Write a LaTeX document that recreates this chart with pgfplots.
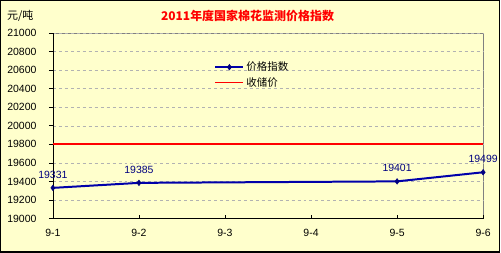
\documentclass[border=0pt]{standalone}
\usepackage{pgfplots}
\pgfplotsset{compat=1.18}
\usepackage{fontspec}
\setmainfont{Liberation Sans}
\newfontfamily\cjk{Noto Sans CJK SC}
\definecolor{bg}{RGB}{255,255,204}
\definecolor{lineblue}{RGB}{0,0,170}
\definecolor{navy}{RGB}{0,0,128}
\begin{document}
\begin{tikzpicture}[x=1bp,y=1bp]
\fill[bg] (0,0) rectangle (501,253);
\node[font=\cjk\bfseries\fontsize{12bp}{14bp}\selectfont, text=red] at (248,237.5) {2011年度国家棉花监测价格指数};
\node[font=\cjk\fontsize{11bp}{13bp}\selectfont, anchor=west, inner sep=0pt] at (7,237.5) {元/吨};
\begin{axis}[
  at={(53bp,34bp)}, anchor=origin,
  scale only axis, width=431bp, height=186bp,
  xmin=0, xmax=5, ymin=19000, ymax=21000,
  xtick={0,1,2,3,4,5},
  xticklabels={9-1,9-2,9-3,9-4,9-5,9-6},
  ytick={19000,19200,...,21000},
  scaled y ticks=false,
  yticklabel={\pgfmathprintnumber[fixed,precision=0,1000 sep={}]{\tick}},
  axis x line*=bottom, axis y line*=left,
  axis line style={-, black, line width=0.8bp},
  axis background/.style={fill=bg, draw=gray, line width=0.8bp},
  xtick align=inside, ytick align=outside,
  major tick length=4bp,
  tick style={black, line width=0.8bp},
  ymajorgrids, grid style={dashed, gray!60, line width=0.5bp},
  /pgf/number format/assume math mode=true,
  /pgf/number format/1000 sep={},
  tick label style={font=\fontsize{10.5bp}{12bp}\selectfont},
  yticklabel style={xshift=-9bp},
  xticklabel style={yshift=-7bp},
  clip=false,
  legend style={at={(0.375,0.855)}, anchor=north west, draw=none, fill=none,
    font=\cjk\fontsize{10.5bp}{12bp}\selectfont, row sep=1bp, inner sep=0pt},
  legend cell align=left,
  legend image code/.code={\draw[mark repeat=2,mark phase=2,#1] plot coordinates {(0bp,0bp) (14bp,0bp) (28bp,0bp)};},
]
\addplot[lineblue, line width=2bp, mark=diamond*, mark size=2.8bp, mark options={fill=navy, draw=navy, line width=0.5bp},
  point meta=explicit symbolic,
  nodes near coords, nodes near coords style={font=\fontsize{10.5bp}{12bp}\selectfont, text=navy, anchor=south, yshift=6bp}]
  coordinates {(0,19331) [19331] (1,19385) [19385] (4,19401) [19401] (5,19499) [19499]};
\addlegendentry{价格指数}
\addplot[red, line width=2bp] coordinates {(0,19800) (5,19800)};
\addlegendentry{收储价}
\end{axis}
\draw[black, line width=1.2bp] (0.6,0.6) rectangle (500.4,252.4);
\end{tikzpicture}
\end{document}
